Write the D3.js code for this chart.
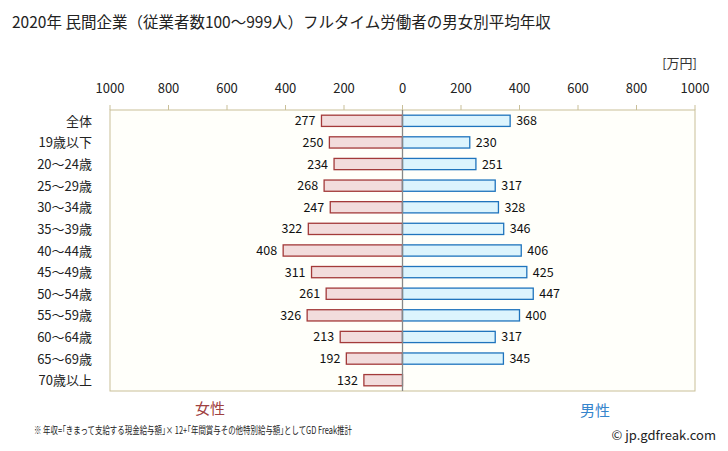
<!DOCTYPE html>
<html><head><meta charset="utf-8">
<script src="https://cdn.jsdelivr.net/npm/d3@7/dist/d3.min.js"></script>
<style>body{margin:0;background:#fff}text{font-family:"Noto Sans CJK JP","Noto Sans",sans-serif}</style>
</head><body><svg id="c" width="728" height="451"></svg>
<script>
const categories=["全体","19歳以下","20〜24歳","25〜29歳","30〜34歳","35〜39歳","40〜44歳","45〜49歳","50〜54歳","55〜59歳","60〜64歳","65〜69歳","70歳以上"];
const female=[277,250,234,268,247,322,408,311,261,326,213,192,132];
const male=[368,230,251,317,328,346,406,425,447,400,317,345,null];
const ticks=[-1000,-800,-600,-400,-200,0,200,400,600,800,1000];

const svg=d3.select("#c");
const L=110,R=695,T=110,B=391;
const x=d3.scaleLinear().domain([-1000,1000]).range([L,R]);
const y=d3.scaleBand().domain(categories).range([T,B]).paddingInner(0.48).paddingOuter(0.24);

svg.append("text").attr("x",12).attr("y",28).attr("font-size",15.5).attr("fill","#222").text("2020年 民間企業（従業者数100〜999人）フルタイム労働者の男女別平均年収");
svg.append("text").attr("x",697).attr("y",68).attr("text-anchor","end").attr("font-size",13).attr("fill","#333").text("[万円]");

svg.append("rect").attr("x",L).attr("y",T).attr("width",R-L).attr("height",B-T).attr("fill","#fffffa").attr("stroke","#c9bf98").attr("stroke-width",1);

const ax=svg.append("g");
ax.selectAll("line").data(ticks).join("line").attr("x1",d=>x(d)).attr("x2",d=>x(d)).attr("y1",T-5).attr("y2",T).attr("stroke","#c9bf98");
ax.selectAll("text").data(ticks).join("text").attr("x",d=>x(d)).attr("y",93).attr("text-anchor","middle").attr("font-size",13).attr("fill","#222").text(d=>Math.abs(d));

svg.append("g").selectAll("text").data(categories).join("text").attr("x",92).attr("y",d=>y(d)+y.bandwidth()/2+5).attr("text-anchor","end").attr("font-size",13).attr("fill","#222").text(d=>d);

const fd=categories.map((c,i)=>({c,v:female[i]}));
const md=categories.map((c,i)=>({c,v:male[i]})).filter(d=>d.v!=null);
svg.append("g").selectAll("rect").data(fd).join("rect").attr("x",d=>x(-d.v)).attr("y",d=>y(d.c)).attr("width",d=>x(0)-x(-d.v)).attr("height",y.bandwidth()).attr("fill","#f2dcdc").attr("stroke","#a33a3a").attr("stroke-width",1.3);
svg.append("g").selectAll("rect").data(md).join("rect").attr("x",x(0)).attr("y",d=>y(d.c)).attr("width",d=>x(d.v)-x(0)).attr("height",y.bandwidth()).attr("fill","#dcf4fd").attr("stroke","#1f74bd").attr("stroke-width",1.3);

svg.append("line").attr("x1",x(0)).attr("x2",x(0)).attr("y1",T).attr("y2",B).attr("stroke","#888").attr("stroke-width",1.3);

svg.append("g").selectAll("text").data(fd).join("text").attr("x",d=>x(-d.v)-6).attr("y",d=>y(d.c)+y.bandwidth()/2+4.5).attr("text-anchor","end").attr("font-size",12.5).attr("fill","#111").text(d=>d.v);
svg.append("g").selectAll("text").data(md).join("text").attr("x",d=>x(d.v)+6).attr("y",d=>y(d.c)+y.bandwidth()/2+4.5).attr("font-size",12.5).attr("fill","#111").text(d=>d.v);

svg.append("text").attr("x",210).attr("y",414).attr("text-anchor","middle").attr("font-size",15).attr("fill","#a04040").text("女性");
svg.append("text").attr("x",595).attr("y",416).attr("text-anchor","middle").attr("font-size",15).attr("fill","#3585cc").text("男性");
svg.append("text").attr("x",34).attr("y",434).attr("font-size",10).attr("textLength",318).attr("lengthAdjust","spacingAndGlyphs").attr("fill","#222").text("※ 年収=｢きまって支給する現金給与額｣× 12+｢年間賞与その他特別給与額｣としてGD Freak推計");
svg.append("text").attr("x",716).attr("y",440).attr("text-anchor","end").attr("font-size",13).attr("fill","#222").text("© jp.gdfreak.com");
</script></body></html>
